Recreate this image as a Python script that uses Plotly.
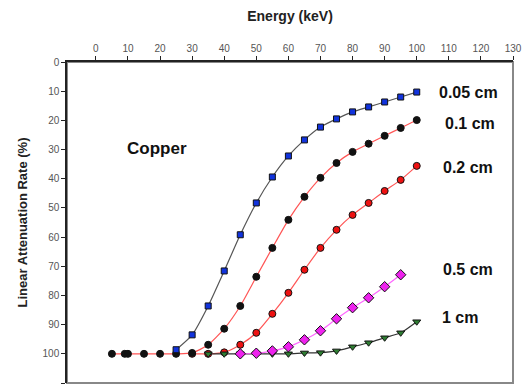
import plotly.graph_objects as go

energy = [5, 10, 15, 20, 25, 30, 35, 40, 45, 50, 55, 60, 65, 70, 75, 80, 85, 90, 95, 100]
energy_005 = [25, 30, 35, 40, 45, 50, 55, 60, 65, 70, 75, 80, 85, 90, 95, 100]
energy_01 = [5, 9, 10, 15, 20, 25, 30, 35, 40, 45, 50, 55, 60, 65, 70, 75, 80, 85, 90, 95, 100]
energy_02 = [30, 35, 40, 45, 50, 55, 60, 65, 70, 75, 80, 85, 90, 95, 100]
energy_05 = [45, 50, 55, 60, 65, 70, 75, 80, 85, 90, 95]
energy_1 = [35, 40, 45, 50, 55, 60, 65, 70, 75, 80, 85, 90, 95, 100]

cu_005 = [98.6, 93.5, 83.6, 71.6, 59.2, 48.3, 39.4, 32.2, 26.7, 22.3, 19.5, 17.1, 15.4, 13.7, 12.0, 10.3]
cu_01 = [100, 100, 100, 100, 100, 100, 99.7, 96.9, 91.4, 83.6, 73.6, 63.7, 54.1, 46.2, 39.7, 34.6, 30.8, 28.0, 25.3, 22.6, 19.9]
cu_02 = [100, 100, 99.5, 96.9, 92.8, 86.3, 79.1, 71.2, 63.7, 57.5, 52.4, 48.3, 44.2, 40.4, 35.6]
cu_05 = [100, 99.8, 99.0, 97.6, 95.2, 92.1, 88.0, 84.2, 80.8, 77.0, 72.9]
cu_1 = [100, 100, 100, 100, 100, 100, 99.7, 99.6, 99.0, 97.6, 96.2, 94.5, 92.8, 89.0]

labels = ["0.05 cm", "0.1 cm", "0.2 cm", "0.5 cm", "1 cm"]
label_x = [116, 116.5, 116, 116, 113.5]
label_y = [10.3, 21, 36, 71, 87.5]

fig = go.Figure()

def add(x, y, line_color, marker_color, symbol, size):
    fig.add_trace(go.Scatter(
        x=x, y=y, mode="lines+markers",
        line=dict(color=line_color, width=1.2, shape="spline", smoothing=0.6),
        marker=dict(symbol=symbol, size=size, color=marker_color,
                    line=dict(color="#111111", width=1)),
        showlegend=False, cliponaxis=False))

add(energy_02, cu_02, "#ff5555", "#ee1111", "circle", 7)
add(energy_01, cu_01, "#ff5555", "#111111", "circle", 7)
add(energy_1, cu_1, "#333333", "#2e7d32", "triangle-down", 7)
add(energy_05, cu_05, "#ff66ff", "#ee22ee", "diamond", 8)
add(energy_005, cu_005, "#555555", "#1133dd", "square", 6)

for t, x, y in zip(labels, label_x, label_y):
    fig.add_annotation(x=x, y=y, text="<b>" + t + "</b>", showarrow=False, xanchor="center", yanchor="middle",
                       font=dict(family="Liberation Sans, Arial", size=16, color="#111111"))

fig.add_annotation(x=19, y=29.5, text="<b>Copper</b>", showarrow=False, xanchor="center", yanchor="middle",
                   font=dict(family="Liberation Sans, Arial", size=17, color="#111111"))

fig.add_shape(type="rect", xref="paper", yref="paper", x0=0, y0=0, x1=1, y1=1,
              line=dict(color="#888888", width=2), layer="below")

fig.update_layout(
    width=526, height=387,
    margin=dict(l=67, r=11, t=62, b=4),
    paper_bgcolor="white", plot_bgcolor="white",
    font=dict(family="Liberation Sans, Arial", color="#222222"),
    xaxis=dict(side="top", range=[-9, 130], tickmode="linear", tick0=0, dtick=10,
               ticks="outside", ticklen=4, tickcolor="#222222", showgrid=False, zeroline=False,
               showline=True, linecolor="#222222", linewidth=1.5,
               tickfont=dict(size=10, color="#555555"),
               title=dict(text="<b>Energy (keV)</b>", font=dict(size=14, color="#222222"), standoff=18)),
    yaxis=dict(range=[110, 0], tickmode="linear", tick0=0, dtick=10,
               ticks="outside", ticklen=4, tickcolor="#222222", showgrid=False, zeroline=False,
               showline=True, linecolor="#222222", linewidth=1.5,
               tickfont=dict(size=10, color="#555555"),
               title=dict(text="<b>Linear Attenuation Rate (%)</b>", font=dict(size=13, color="#222222"), standoff=12)),
)

fig.write_html("out.html", config={"displayModeBar": False})
with open("out.html", "r", encoding="utf-8") as f:
    html = f.read()
html = html.replace("<head>", "<head><style>html,body{margin:0;padding:0;overflow:hidden;}</style>", 1)
with open("out.html", "w", encoding="utf-8") as f:
    f.write(html)
